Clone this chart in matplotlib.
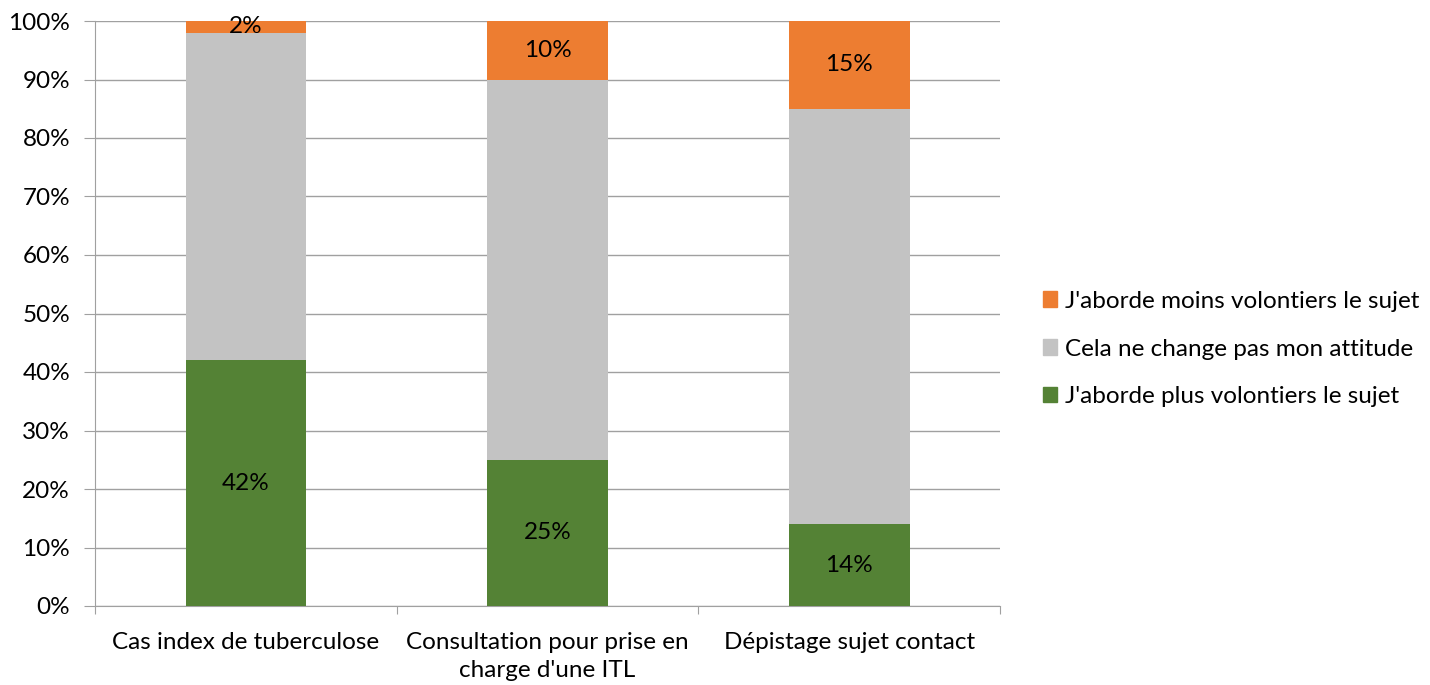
import numpy as np
import matplotlib.pyplot as plt
from matplotlib.patches import Patch

# Réponses par situation (en %)
categories = ["Cas index de tuberculose", "Consultation pour prise en\ncharge d'une ITL", "Dépistage sujet contact"]
plus_volontiers = [42, 25, 14]
moins_volontiers = [2, 10, 15]
pas_de_changement = [100 - p - m for p, m in zip(plus_volontiers, moins_volontiers)]

noms_series = ["J'aborde plus volontiers le sujet", "Cela ne change pas mon attitude", "J'aborde moins volontiers le sujet"]
couleurs = ["#548235", "#C3C3C3", "#ED7D31"]

plt.rcParams['font.family'] = ['Lato', 'DejaVu Sans']
taille = 17.5

fig = plt.figure(figsize=(14.3, 6.85), dpi=100)
ax = fig.add_axes([95 / 1430, 79 / 685, 905 / 1430, 585 / 685])

x = np.arange(len(categories))
series = [plus_volontiers, pas_de_changement, moins_volontiers]
bas = np.zeros(len(categories))
for vals, nom, c in zip(series, noms_series, couleurs):
    vals = np.array(vals, dtype=float)
    ax.bar(x, vals, 0.4, bottom=bas, color=c, label=nom, zorder=3)
    if c != "#C3C3C3":
        for xi, b, v in zip(x, bas, vals):
            ax.text(xi, b + v / 2, f"{v:.0f}%", ha='center', va='center', fontsize=taille, color='black', zorder=4)
    bas += vals

ax.set_xlim(-0.5, len(categories) - 0.5)
ax.set_ylim(0, 100)
ax.set_yticks(np.arange(0, 101, 10))
ax.set_yticklabels([f"{t}%" for t in range(0, 101, 10)], fontsize=taille)
ax.yaxis.grid(True, color='#A0A0A0', linewidth=1, zorder=0)
ax.tick_params(axis='y', length=8, color='#A0A0A0', pad=10)

# graduations de l'axe x entre les catégories
ax.set_xticks(np.arange(-0.5, len(categories)), minor=False)
ax.set_xticklabels([])
ax.set_xticks(x, minor=True)
ax.set_xticklabels(categories, minor=True, fontsize=taille, linespacing=1.4)
ax.tick_params(axis='x', which='major', length=6, color='#A0A0A0')
ax.tick_params(axis='x', which='minor', length=0, pad=19)

for s in ['top', 'right']:
    ax.spines[s].set_visible(False)
for s in ['left', 'bottom']:
    ax.spines[s].set_color('#A0A0A0')

poignees = [Patch(color=c) for c in couleurs[::-1]]
fig.legend(poignees, noms_series[::-1], loc='center left', bbox_to_anchor=(1021 / 1430, 1 - 349 / 685),
           frameon=False, fontsize=taille, handlelength=0.6, handleheight=0.6, handletextpad=0.3, labelspacing=1.1)

fig.savefig("out.png", dpi=100)
